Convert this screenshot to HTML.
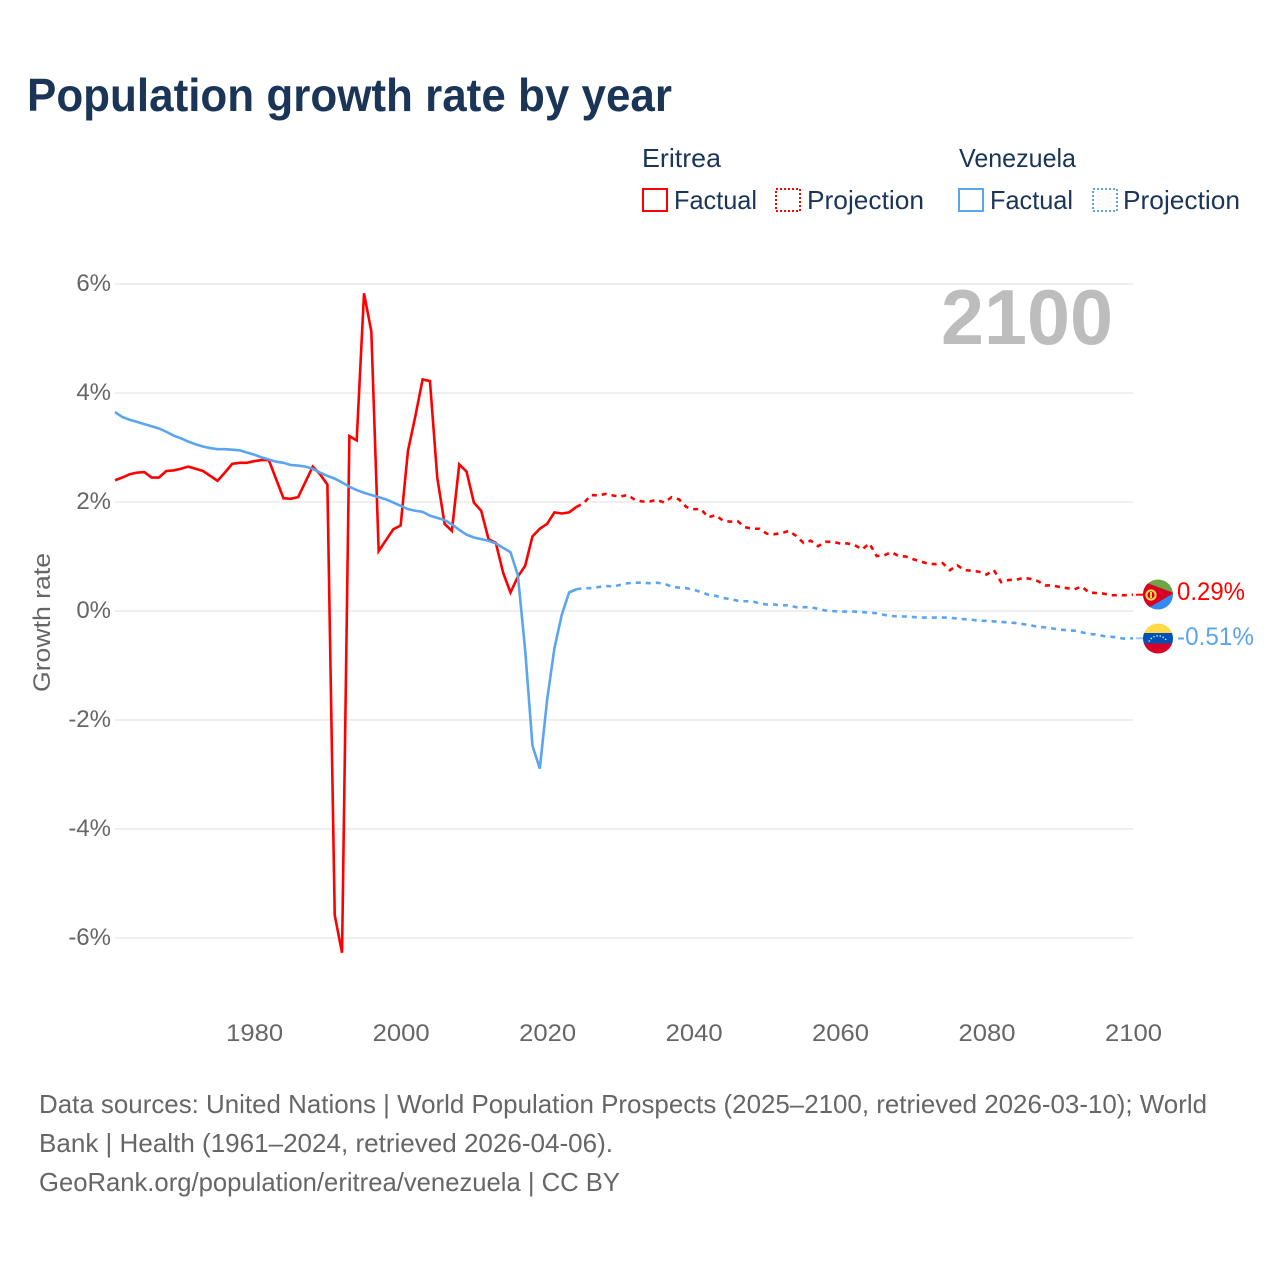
<!DOCTYPE html>
<html lang="en">
<head>
<meta charset="utf-8">
<title>Population growth rate by year</title>
<style>
html,body{margin:0;padding:0;background:#fff;}
svg{display:block;}
text{font-family:"Liberation Sans",sans-serif;}
</style>
</head>
<body>
<svg id="chart" xmlns="http://www.w3.org/2000/svg" width="1280" height="1280" viewBox="0 0 1280 1280">
  <rect width="1280" height="1280" fill="#fff"/>
  <text x="27" y="111" font-size="46" font-weight="700" fill="#1a3557" textLength="645" lengthAdjust="spacingAndGlyphs">Population growth rate by year</text>

  <g font-size="26" fill="#1a3557">
    <text x="642" y="167" textLength="79" lengthAdjust="spacingAndGlyphs">Eritrea</text>
    <text x="959" y="167" textLength="117" lengthAdjust="spacingAndGlyphs">Venezuela</text>
    <g>
      <rect x="643" y="189" width="24" height="22" fill="none" stroke="#ff0000" stroke-width="2"/>
      <text x="674" y="209" textLength="83" lengthAdjust="spacingAndGlyphs">Factual</text>
    </g>
    <g>
      <rect x="776" y="189" width="24" height="22" fill="none" stroke="#ff0000" stroke-width="2" stroke-dasharray="2 2"/>
      <text x="807" y="209" textLength="117" lengthAdjust="spacingAndGlyphs">Projection</text>
    </g>
    <g>
      <rect x="959" y="189" width="24" height="22" fill="none" stroke="#5ba4ef" stroke-width="2"/>
      <text x="990" y="209" textLength="83" lengthAdjust="spacingAndGlyphs">Factual</text>
    </g>
    <g>
      <rect x="1093" y="189" width="24" height="22" fill="none" stroke="#5ba4ef" stroke-width="2" stroke-dasharray="2 2"/>
      <text x="1123" y="209" textLength="117" lengthAdjust="spacingAndGlyphs">Projection</text>
    </g>
  </g>

  <g id="grid"></g>
  <g id="yticks" font-size="24" fill="#666" text-anchor="end"></g>
  <g id="xticks" font-size="24" fill="#666" text-anchor="middle"></g>

  <text transform="translate(50 622.5) rotate(-90)" font-size="24" fill="#666" text-anchor="middle" textLength="139" lengthAdjust="spacingAndGlyphs">Growth rate</text>
  <text x="1113" y="344" font-size="78" font-weight="700" fill="#bdbdbd" text-anchor="end" textLength="172" lengthAdjust="spacingAndGlyphs">2100</text>

  <g id="series"></g>

  <defs>
    <clipPath id="flagClipE"><circle cx="1158" cy="594.5" r="15"/></clipPath>
    <clipPath id="flagClipV"><circle cx="1158" cy="638.5" r="15"/></clipPath>
  </defs>
  <g clip-path="url(#flagClipE)">
    <rect x="1143" y="579" width="30" height="16" fill="#6da544"/>
    <rect x="1143" y="594" width="30" height="16" fill="#338af3"/>
    <polygon points="1143,581.5 1174,593 1143,611" fill="#d80027"/>
    <circle cx="1151" cy="595" r="4.6" fill="none" stroke="#ffda44" stroke-width="2"/>
    <rect x="1150" y="592" width="2" height="6" fill="#ffda44"/>
  </g>
  <g clip-path="url(#flagClipV)">
    <rect x="1143" y="623" width="30" height="10.5" fill="#ffda44"/>
    <rect x="1143" y="633" width="30" height="11" fill="#0052b4"/>
    <rect x="1143" y="643.5" width="30" height="10.5" fill="#d80027"/>
    <path d="M1149 641.5 A10 10 0 0 1 1167 641.5" fill="none" stroke="#fff" stroke-width="1.4" stroke-dasharray="1.2 2"/>
  </g>

  <text x="1177" y="600" font-size="25" fill="#ff0000" textLength="68" lengthAdjust="spacingAndGlyphs">0.29%</text>
  <text x="1177" y="645" font-size="25" fill="#5ba4ef" textLength="77" lengthAdjust="spacingAndGlyphs">-0.51%</text>

  <g font-size="26" fill="#666">
    <text x="39" y="1113" textLength="1168" lengthAdjust="spacingAndGlyphs">Data sources: United Nations | World Population Prospects (2025–2100, retrieved 2026-03-10); World</text>
    <text x="39" y="1152" textLength="574" lengthAdjust="spacingAndGlyphs">Bank | Health (1961–2024, retrieved 2026-04-06).</text>
    <text x="39" y="1191" textLength="581" lengthAdjust="spacingAndGlyphs">GeoRank.org/population/eritrea/venezuela | CC BY</text>
  </g>
</svg>
<script>
const yTickValues = [6, 4, 2, 0, -2, -4, -6];
const yTickLabels = ["6%", "4%", "2%", "0%", "-2%", "-4%", "-6%"];
const xTickValues = [1980, 2000, 2020, 2040, 2060, 2080, 2100];
const xTickLabels = ["1980", "2000", "2020", "2040", "2060", "2080", "2100"];
const factualFirstYear = 1961;
const projectionFirstYear = 2024;
const eritreaFactual = [
  2.39,2.44,2.50,2.53,2.54,2.44,2.44,2.56,2.57,2.60,
  2.64,2.60,2.56,2.47,2.38,2.53,2.69,2.71,2.71,2.74,
  2.76,2.76,2.41,2.06,2.05,2.08,2.36,2.64,2.50,2.31,
  -5.59,-6.28,3.20,3.12,5.82,5.12,1.09,1.29,1.49,1.56,
  2.93,3.56,4.24,4.21,2.44,1.59,1.46,2.68,2.55,1.98,
  1.83,1.31,1.24,0.69,0.33,0.62,0.82,1.36,1.50,1.59,
  1.80,1.78,1.80,1.90
];
const venezuelaFactual = [
  3.64,3.55,3.50,3.46,3.42,3.38,3.34,3.28,3.21,3.16,
  3.10,3.05,3.01,2.98,2.96,2.96,2.95,2.94,2.90,2.86,
  2.81,2.77,2.73,2.71,2.67,2.66,2.64,2.60,2.53,2.47,
  2.42,2.35,2.27,2.21,2.16,2.12,2.08,2.04,1.98,1.92,
  1.86,1.83,1.81,1.74,1.70,1.66,1.58,1.48,1.39,1.34,
  1.31,1.28,1.23,1.15,1.07,0.65,-0.72,-2.48,-2.90,-1.64,
  -0.69,-0.08,0.33,0.39
];
const eritreaProjection = [
  1.90,1.97,2.12,2.11,2.14,2.11,2.09,2.12,2.03,2.00,2.00,
  2.03,1.98,2.08,2.04,1.90,1.86,1.86,1.71,1.75,1.65,
  1.63,1.64,1.53,1.50,1.50,1.41,1.40,1.42,1.46,1.37,
  1.24,1.28,1.18,1.26,1.26,1.23,1.23,1.20,1.12,1.23,
  1.00,1.01,1.07,1.00,0.99,0.94,0.90,0.86,0.85,0.87,
  0.74,0.83,0.74,0.73,0.71,0.66,0.74,0.52,0.56,0.56,
  0.60,0.58,0.54,0.46,0.46,0.43,0.41,0.39,0.44,0.33,
  0.32,0.31,0.28,0.28,0.28,0.29
];
const venezuelaProjection = [
  0.39,0.41,0.41,0.43,0.45,0.44,0.47,0.50,0.51,0.51,0.50,
  0.51,0.49,0.44,0.42,0.41,0.38,0.34,0.29,0.27,0.23,
  0.21,0.18,0.17,0.17,0.13,0.11,0.11,0.09,0.10,0.06,
  0.06,0.06,0.03,0.00,-0.01,-0.02,-0.02,-0.02,-0.03,-0.04,
  -0.05,-0.08,-0.10,-0.11,-0.11,-0.12,-0.13,-0.13,-0.13,-0.13,
  -0.13,-0.15,-0.16,-0.17,-0.19,-0.19,-0.20,-0.21,-0.22,-0.23,
  -0.25,-0.27,-0.30,-0.31,-0.33,-0.35,-0.36,-0.37,-0.40,-0.43,
  -0.44,-0.47,-0.48,-0.50,-0.52,-0.51
];

const SVG_NS = "http://www.w3.org/2000/svg";
function xScale(year) { return 115 + (year - 1961) * 7.324; }
function yScale(value) { return 610.5 - 54.5 * value; }
function buildPath(firstYear, values) {
  return values.map(function (v, i) {
    return (i ? "L" : "M") + xScale(firstYear + i).toFixed(2) + " " + yScale(v).toFixed(2);
  }).join(" ");
}

const gridGroup = document.getElementById("grid");
const yTickGroup = document.getElementById("yticks");
yTickValues.forEach(function (v, i) {
  const line = document.createElementNS(SVG_NS, "line");
  
  
  line.setAttribute("x1", 115);
  line.setAttribute("x2", 1133);
  line.setAttribute("y1", yScale(v) + 0.5);
  line.setAttribute("y2", yScale(v) + 0.5);
  line.setAttribute("stroke", "#efefef");
  line.setAttribute("stroke-width", 2);
  gridGroup.appendChild(line);
  const label = document.createElementNS(SVG_NS, "text");
  
  
  label.setAttribute("x", 111);
  label.setAttribute("y", yScale(v) + 7.5);
  label.textContent = yTickLabels[i];
  yTickGroup.appendChild(label);
});

const xTickGroup = document.getElementById("xticks");
xTickValues.forEach(function (v, i) {
  const label = document.createElementNS(SVG_NS, "text");
  
  
  label.setAttribute("x", xScale(v) + 0.5);
  label.setAttribute("y", 1041);
  label.setAttribute("textLength", 57);
  label.setAttribute("lengthAdjust", "spacingAndGlyphs");
  label.textContent = xTickLabels[i];
  xTickGroup.appendChild(label);
});

const seriesGroup = document.getElementById("series");
function addLine(name, firstYear, values, color, dashed) {
  const path = document.createElementNS(SVG_NS, "path");
  
  
  path.setAttribute("d", buildPath(firstYear, values));
  path.setAttribute("fill", "none");
  path.setAttribute("stroke", color);
  path.setAttribute("stroke-width", 2.6);
  path.setAttribute("stroke-linejoin", "miter");
  if (dashed) path.setAttribute("stroke-dasharray", "5 5");
  seriesGroup.appendChild(path);
}
addLine("eritrea-projection-line", projectionFirstYear, eritreaProjection, "#ff0000", true);
addLine("eritrea-factual-line", factualFirstYear, eritreaFactual, "#ff0000", false);
addLine("venezuela-projection-line", projectionFirstYear, venezuelaProjection, "#5ba4ef", true);
addLine("venezuela-factual-line", factualFirstYear, venezuelaFactual, "#5ba4ef", false);

const stubEritrea = document.createElementNS(SVG_NS, "line");


stubEritrea.setAttribute("x1", xScale(2100) + 3);
stubEritrea.setAttribute("x2", 1144);
stubEritrea.setAttribute("y1", yScale(eritreaProjection[eritreaProjection.length - 1]));
stubEritrea.setAttribute("y2", yScale(eritreaProjection[eritreaProjection.length - 1]));
stubEritrea.setAttribute("stroke", "#ff0000");
stubEritrea.setAttribute("stroke-width", 2);
seriesGroup.appendChild(stubEritrea);

const stubVenezuela = document.createElementNS(SVG_NS, "line");


stubVenezuela.setAttribute("x1", xScale(2100) + 3);
stubVenezuela.setAttribute("x2", 1144);
stubVenezuela.setAttribute("y1", yScale(venezuelaProjection[venezuelaProjection.length - 1]));
stubVenezuela.setAttribute("y2", yScale(venezuelaProjection[venezuelaProjection.length - 1]));
stubVenezuela.setAttribute("stroke", "#9cc8f5");
stubVenezuela.setAttribute("stroke-width", 2);
seriesGroup.appendChild(stubVenezuela);
</script>
</body>
</html>
